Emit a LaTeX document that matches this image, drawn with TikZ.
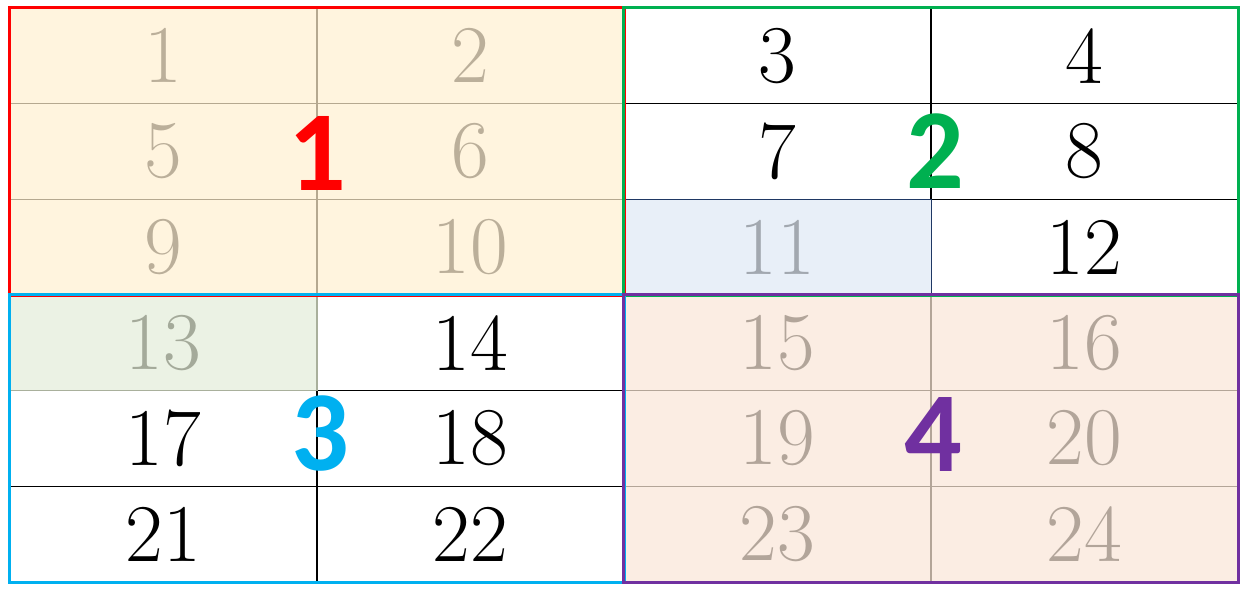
\documentclass[tikz,border=0pt]{standalone}
\usepackage{fontspec}
\newfontfamily\quadfont{Carlito}
\definecolor{creamfill}{HTML}{FFF4DE}
\definecolor{tangrid}{HTML}{B5A890}
\definecolor{tantext}{HTML}{BBAF9A}
\definecolor{bluefill}{HTML}{E8EFF8}
\definecolor{bluetext}{HTML}{A2A8B0}
\definecolor{navyline}{HTML}{1F3864}
\definecolor{greenfill}{HTML}{EBF2E4}
\definecolor{greentext}{HTML}{A4AA9A}
\definecolor{greengrid}{HTML}{A9B09C}
\definecolor{peachfill}{HTML}{FBEDE3}
\definecolor{peachgrid}{HTML}{B3A598}
\definecolor{peachtext}{HTML}{B2A59A}
\definecolor{qred}{HTML}{FF0000}
\definecolor{qgreen}{HTML}{00B050}
\definecolor{qblue}{HTML}{00B0F0}
\definecolor{qpurple}{HTML}{7030A0}

\tikzset{
  cell/.style={rectangle, minimum width=307pt, minimum height=95.67pt,
    inner sep=0pt, line width=1.5pt, font=\fontsize{82}{82}\selectfont},
  plain/.style={cell, draw=black, fill=white, text=black},
  qone/.style={cell, draw=tangrid, fill=creamfill, text=tantext},
  qfour/.style={cell, draw=peachgrid, fill=peachfill, text=peachtext},
  eleven/.style={cell, draw=navyline, line width=1pt, fill=bluefill, text=bluetext},
  thirteen/.style={cell, draw=greengrid, fill=greenfill, text=greentext},
  quadline/.style={line width=3pt},
  quadlabel/.style={font=\quadfont\bfseries\fontsize{114}{114}\selectfont, inner sep=0pt}
}

\begin{document}
\begin{tikzpicture}[x=1pt,y=-1pt]
\useasboundingbox (0,0) rectangle (1247,592);

% the cells, row by row; 11 and 13 last so their edges stay on top
\foreach \n/\sty in {1/qone,2/qone,3/plain,4/plain,
                     5/qone,6/qone,7/plain,8/plain,
                     9/qone,10/qone,12/plain,
                     14/plain,15/qfour,16/qfour,
                     17/plain,18/plain,19/qfour,20/qfour,
                     21/plain,22/plain,23/qfour,24/qfour,
                     11/eleven,13/thirteen}{
  \pgfmathtruncatemacro\col{mod(\n-1,4)}
  \pgfmathtruncatemacro\row{(\n-1)/4}
  \node[\sty] (c\n) at ({163.5+307*\col},{55.83+95.67*\row}) {\n};
}

% the four quadrants
\draw[quadline, qred] (c1.north west) rectangle (c10.south east);
\draw[quadline, qgreen] (c3.north west) rectangle (c12.south east);
\draw[quadline, qblue] (c13.north west) rectangle (c22.south east);
\draw[quadline, qpurple] (c15.north west) rectangle (c24.south east);

\node[quadlabel, text=qred] (q1) at ([yshift=-2pt]c5.east) {1};
\node[quadlabel, text=qgreen] (q2) at ([xshift=4pt]c7.east) {2};
\node[quadlabel, text=qblue] (q3) at ([xshift=3pt,yshift=5pt]c17.east) {3};
\node[quadlabel, text=qpurple] (q4) at ([xshift=2pt,yshift=4pt]c19.east) {4};
\end{tikzpicture}
\end{document}
